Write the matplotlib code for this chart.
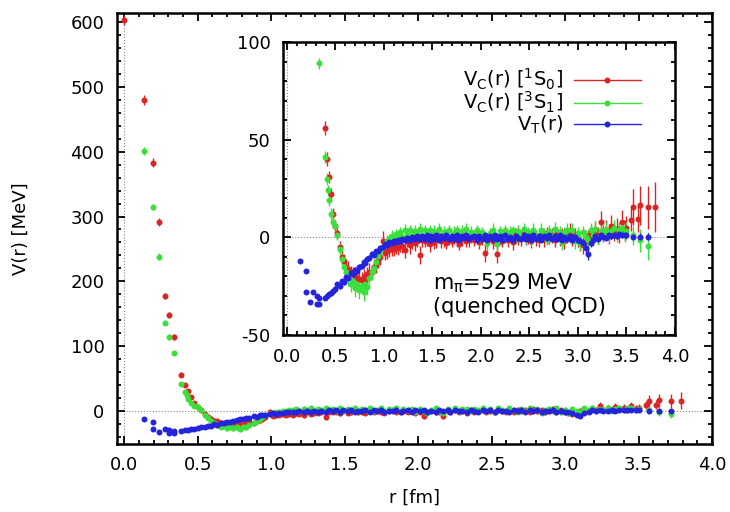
import matplotlib
matplotlib.use('Agg')
import matplotlib.pyplot as plt
from matplotlib.lines import Line2D
from matplotlib.ticker import MultipleLocator, FormatStrFormatter

plt.rcParams['font.family'] = ['DejaVu Sans']
plt.rcParams['mathtext.default'] = 'regular'

# ---------------- data ----------------
labels = [r'$V_C(r)\ [^1S_0]$', r'$V_C(r)\ [^3S_1]$', r'$V_T(r)$']
colors = ['#dd2424', '#3ae03a', '#2424dd']

# shared r grid of the long-range part [fm]
r_tail = [
    0.50, 0.52, 0.55, 0.57, 0.59, 0.61, 0.63, 0.66, 0.68, 0.70,
    0.72, 0.74, 0.77, 0.79, 0.81, 0.83, 0.85, 0.88, 0.90, 0.92,
    0.94, 0.96, 0.99, 1.01, 1.03, 1.05, 1.08, 1.10, 1.12, 1.15,
    1.17, 1.19, 1.22, 1.24, 1.27, 1.29, 1.32, 1.34, 1.37, 1.39,
    1.42, 1.44, 1.47, 1.49, 1.52, 1.54, 1.57, 1.59, 1.62, 1.64,
    1.67, 1.70, 1.72, 1.75, 1.77, 1.80, 1.83, 1.85, 1.88, 1.90,
    1.93, 1.96, 1.98, 2.01, 2.04, 2.06, 2.09, 2.12, 2.14, 2.17,
    2.20, 2.22, 2.25, 2.28, 2.30, 2.33, 2.36, 2.38, 2.41, 2.44,
    2.46, 2.49, 2.52, 2.54, 2.57, 2.60, 2.62, 2.65, 2.68, 2.70,
    2.73, 2.76, 2.78, 2.81, 2.84, 2.86, 2.89, 2.92, 2.94, 2.97,
    3.00, 3.02, 3.05, 3.08, 3.10, 3.13, 3.16, 3.18, 3.21, 3.24,
    3.26, 3.29, 3.32, 3.34, 3.37, 3.40, 3.42, 3.45, 3.48, 3.50,
]

# ---- V_C 1S0 (red) ----
r_1s0_core = [0.0, 0.137, 0.194, 0.237, 0.274, 0.306, 0.336, 0.388, 0.411, 0.433, 0.454, 0.475]
v_1s0_core = [603, 480, 383, 292, 177, 148, 114, 56, 40, 31, 22, 12]
e_1s0_core = [8, 8, 7, 6, 5, 5, 4, 3.5, 3.5, 3, 3, 3]
v_1s0_tail = [
    6.0, 2.0, -5.0, -10.0, -12.0, -15.0, -16.0, -18.0, -19.0, -20.0,
    -21.0, -21.5, -22.0, -20.5, -22.0, -19.0, -17.5, -18.0, -15.0, -14.0,
    -12.0, -10.0, -2.0, -8.0, -7.0, -6.5, -5.0, -6.0, -4.5, -5.5,
    -3.5, -4.5, -6.5, -2.0, -4.0, -2.5, -3.0, -2.0, -9.0, -1.5,
    -2.0, -1.0, -3.5, -0.5, -2.5, -1.5, 0.5, -2.0, -1.0, -3.0,
    -0.5, -2.0, 0.5, -1.5, -3.5, -0.5, 1.0, -2.0, -1.0, 0.5,
    -1.5, 0.5, -2.5, -1.0, -8.0, -1.5, 0.5, -2.0, -1.0, -8.5,
    -0.5, -2.0, 1.0, -1.5, 0.0, -2.5, 1.5, -1.0, -0.5, 2.0,
    -1.0, 0.5, -2.0, 1.5, -0.5, -1.5, 1.0, -1.0, 2.0, -0.5,
    1.0, -1.5, 2.5, -0.5, 1.5, -2.0, 0.5, 3.0, -1.0, 1.0,
    -1.5, -3.0, -4.0, -2.0, 0.5, 2.0, -0.5, 3.5, 1.0, 8.0,
    2.0, 4.0, 1.0, 6.0, 3.0, 4.5, 2.0, 8.0, 3.5, 5.0,
]
e_1s0_tail = [
    3.0, 3.0, 3.0, 3.5, 3.5, 3.5, 4.0, 3.5, 4.0, 3.5,
    4.0, 3.5, 4.0, 4.5, 3.5, 4.0, 4.5, 3.5, 4.0, 4.5,
    3.5, 4.0, 5.0, 3.5, 4.0, 3.5, 4.5, 3.5, 4.0, 3.5,
    4.0, 3.5, 4.0, 3.0, 4.5, 3.5, 4.0, 3.0, 4.5, 3.5,
    3.0, 3.5, 4.0, 3.0, 3.5, 4.0, 3.0, 3.5, 4.0, 3.0,
    3.5, 3.0, 4.0, 3.5, 3.0, 4.0, 3.5, 3.0, 4.0, 3.5,
    3.0, 4.0, 3.5, 3.0, 4.5, 3.5, 3.0, 4.0, 3.5, 4.5,
    3.5, 3.0, 4.0, 3.5, 3.0, 4.0, 3.5, 3.0, 4.0, 3.5,
    3.0, 4.0, 3.5, 3.0, 4.0, 3.5, 3.0, 4.0, 3.5, 3.0,
    4.0, 3.5, 3.0, 4.0, 3.5, 4.0, 3.5, 4.5, 3.5, 4.0,
    3.5, 4.0, 4.5, 4.0, 3.5, 4.5, 4.0, 5.0, 4.5, 5.5,
    4.5, 5.0, 4.5, 5.5, 5.0, 5.5, 5.0, 6.0, 5.5, 6.0,
]
r_1s0_end = [3.55, 3.57, 3.62, 3.64, 3.72, 3.79]
v_1s0_end = [9.0, 15.5, 9.5, 16.5, 15.5, 15.5]
e_1s0_end = [6.0, 9.0, 7.0, 10.0, 11.0, 13.0]

# ---- V_C 3S1 (green) ----
r_3s1_core = [0.137, 0.194, 0.237, 0.274, 0.306, 0.336, 0.388, 0.411, 0.425, 0.433, 0.454, 0.475]
v_3s1_core = [401, 315, 238, 136, 114, 89, 41, 30, 24, 19, 12, 8]
e_3s1_core = [6, 5, 5, 4, 4, 3, 3, 3, 3, 3, 3, 3]
v_3s1_tail = [
    6.0, 1.0, -6.0, -11.0, -15.0, -18.0, -21.0, -24.0, -22.5, -26.0,
    -24.0, -27.0, -25.0, -28.0, -24.0, -25.5, -21.0, -18.0, -15.5, -12.5,
    -9.5, -7.0, -5.0, -3.5, -2.0, -1.0, 0.5, 0.0, 1.5, 1.0,
    2.5, 0.0, 3.5, 1.0, 4.0, 0.5, 3.0, 1.5, 4.5, 0.8,
    3.5, 0.5, 4.0, -0.5, 3.0, 1.5, 4.5, 0.0, 2.5, 1.2,
    3.8, 0.2, 2.2, 4.0, -0.2, 3.0, 1.0, 4.4, 0.5, 2.5,
    1.0, 3.6, -1.0, 2.5, 0.5, -3.0, 2.0, 4.0, 0.0, -3.5,
    3.0, 0.5, 4.0, 0.0, 2.5, 3.5, -0.5, 3.0, 1.0, 4.2,
    0.2, 2.8, -1.5, 3.8, 1.4, -0.2, 4.0, 1.6, -1.2, 3.0,
    0.5, 4.2, 0.0, 2.8, -2.5, 2.2, 3.6, -0.5, 4.0, -2.0,
    2.0, -3.0, 2.8, 0.0, -1.5, 3.8, 1.0, 4.5, -0.2, 3.2,
    1.6, 4.0, 0.5, 3.0, 4.6, 1.0, 3.8, 4.8, 1.4, 3.4,
]
e_3s1_tail = [
    2.5, 2.5, 3.0, 3.0, 3.5, 3.5, 4.0, 4.0, 4.0, 4.5,
    4.0, 4.5, 4.0, 4.5, 4.0, 4.0, 3.5, 4.0, 3.5, 3.5,
    3.0, 3.0, 3.0, 2.5, 3.0, 2.5, 3.0, 2.5, 3.0, 3.0,
    3.0, 2.5, 3.5, 3.0, 2.5, 3.0, 3.5, 2.5, 3.0, 2.5,
    3.0, 3.5, 2.5, 3.0, 3.5, 2.5, 3.0, 2.5, 3.5, 3.0,
    2.5, 3.0, 3.5, 2.5, 3.0, 3.5, 2.5, 3.0, 2.5, 3.5,
    3.0, 2.5, 3.5, 3.0, 2.5, 4.0, 3.0, 3.5, 2.5, 4.0,
    3.0, 3.5, 2.5, 3.0, 3.5, 2.5, 3.0, 3.5, 2.5, 3.0,
    3.5, 2.5, 3.0, 3.5, 2.5, 3.0, 3.5, 3.0, 2.5, 3.5,
    3.0, 3.5, 2.5, 3.0, 4.0, 3.0, 3.5, 2.5, 3.5, 4.0,
    3.5, 4.0, 3.0, 3.5, 4.0, 3.5, 3.0, 4.0, 3.5, 4.0,
    3.5, 4.0, 3.5, 4.0, 4.5, 3.5, 4.0, 4.5, 4.0, 4.5,
]
r_3s1_end = [3.57, 3.64, 3.72]
v_3s1_end = [1.0, -1.5, -4.5]
e_3s1_end = [5.0, 6.0, 7.0]

# ---- V_T (blue) ----
r_t_core = [0.137, 0.194, 0.194, 0.237, 0.274, 0.306, 0.306, 0.336, 0.336, 0.388, 0.411, 0.433, 0.454, 0.475]
v_t_core = [-12, -17, -28, -33, -28, -30, -34, -34, -31, -31, -30, -29, -28.5, -27.5]
e_t_core = [1.0, 1.0, 1.0, 1.0, 1.0, 1.0, 1.0, 1.0, 1.0, 1.0, 1.0, 1.0, 1.0, 1.0]
v_t_tail = [
    -26.5, -24.0, -25.0, -22.5, -23.0, -20.5, -21.0, -18.5, -19.0, -16.5,
    -17.0, -15.0, -14.5, -12.5, -13.0, -11.0, -10.5, -8.5, -9.0, -7.0,
    -7.0, -5.5, -5.0, -3.5, -4.0, -2.5, -3.0, -1.8, -2.2, -1.2,
    -1.8, -0.6, -1.5, -0.2, -1.3, 0.3, -1.0, 0.6, -0.9, 0.8,
    -0.8, 1.0, -1.2, 0.7, -0.6, 1.2, -1.3, 0.5, -0.5, 1.1,
    -1.1, 0.8, -0.7, 1.3, -1.5, 0.6, -0.4, 1.2, -1.0, 0.4,
    0.9, -1.3, 0.7, -0.8, 1.2, -1.6, 0.5, -1.0, 1.1, -0.6,
    0.8, -1.2, 1.1, -0.8, 0.4, -1.4, 0.9, -0.2, -1.0, 1.2,
    -0.8, 0.7, -1.3, 1.1, -0.6, 0.5, -1.4, 0.9, -0.3, 1.0,
    -1.0, 0.7, -0.8, 1.2, -1.4, 0.4, -0.6, 0.9, -1.6, 0.2,
    -1.2, -2.0, -3.0, -5.5, -8.5, -3.0, -1.2, 0.8, -0.7, 1.0,
    0.4, -0.5, 1.1, 0.6, 1.3, 0.7, 1.5, 1.0, 1.4, 1.1,
]
e_t_tail = [
    1.5, 1.2, 1.5, 1.3, 1.5, 1.2, 1.4, 1.3, 1.5, 1.2,
    1.4, 1.3, 1.5, 1.2, 1.4, 1.3, 1.2, 1.4, 1.3, 1.2,
    1.3, 1.2, 1.4, 1.2, 1.3, 1.1, 1.2, 1.3, 1.1, 1.2,
    1.1, 1.2, 1.0, 1.2, 1.1, 1.0, 1.2, 1.1, 1.0, 1.2,
    1.1, 1.0, 1.2, 1.1, 1.0, 1.2, 1.1, 1.0, 1.2, 1.1,
    1.0, 1.2, 1.1, 1.0, 1.2, 1.1, 1.0, 1.2, 1.1, 1.0,
    1.2, 1.1, 1.0, 1.2, 1.1, 1.3, 1.0, 1.2, 1.1, 1.0,
    1.2, 1.1, 1.0, 1.2, 1.1, 1.0, 1.2, 1.1, 1.0, 1.2,
    1.1, 1.0, 1.2, 1.1, 1.0, 1.2, 1.1, 1.0, 1.2, 1.1,
    1.0, 1.2, 1.1, 1.0, 1.2, 1.1, 1.0, 1.2, 1.3, 1.1,
    1.2, 1.5, 1.8, 2.5, 3.0, 1.8, 1.3, 1.1, 1.2, 1.1,
    1.2, 1.1, 1.3, 1.2, 1.1, 1.3, 1.2, 1.4, 1.3, 1.5,
]
r_t_end = [3.57, 3.64, 3.72]
v_t_end = [0.3, 0.2, 0.4]
e_t_end = [1.5, 1.8, 2.0]

series = [
    (r_1s0_core + r_tail + r_1s0_end, v_1s0_core + v_1s0_tail + v_1s0_end, e_1s0_core + e_1s0_tail + e_1s0_end),
    (r_3s1_core + r_tail + r_3s1_end, v_3s1_core + v_3s1_tail + v_3s1_end, e_3s1_core + e_3s1_tail + e_3s1_end),
    (r_t_core + r_tail + r_t_end, v_t_core + v_t_tail + v_t_end, e_t_core + e_t_tail + e_t_end),
]

# ---------------- figure ----------------
fig = plt.figure(figsize=(7.3, 5.12), dpi=100)
ax = fig.add_axes([117/730, 1-444/512, 595/730, 431/512])
ax_in = fig.add_axes([283/730, 1-335/512, 392/730, 293/512])

MS = 4.3

def draw(a):
    a.axhline(0, color='#888888', ls=':', lw=0.8, zorder=1)
    a.axvline(0, color='#888888', ls=':', lw=0.8, zorder=1)
    for (r, v, e), c in zip(series, colors):
        a.errorbar(r, v, yerr=e, fmt='o', ms=MS, color=c, ecolor=c,
                   elinewidth=1.0, capsize=0, mew=0, zorder=2)

def style(a, xmaj, xmin, ymaj, ymin, yfmt):
    a.xaxis.set_major_locator(MultipleLocator(xmaj))
    a.xaxis.set_minor_locator(MultipleLocator(xmin))
    a.yaxis.set_major_locator(MultipleLocator(ymaj))
    a.yaxis.set_minor_locator(MultipleLocator(ymin))
    a.xaxis.set_major_formatter(FormatStrFormatter('%.1f'))
    a.yaxis.set_major_formatter(FormatStrFormatter(yfmt))
    a.tick_params(which='both', direction='in', top=True, right=True,
                  labelsize=13, width=1.3)
    a.tick_params(which='major', length=5.5, pad=9)
    a.tick_params(which='minor', length=3)
    for s in a.spines.values():
        s.set_linewidth(1.8)

draw(ax)
ax.set_xlim(-0.05, 4.0)
ax.set_ylim(-51, 614)
style(ax, 0.5, 0.1, 100, 20, '%d')
ax.set_xlabel('r [fm]', fontsize=13)
ax.set_ylabel('V(r) [MeV]', fontsize=13)
ax.xaxis.set_label_coords(0.5, -0.103)
ax.yaxis.set_label_coords(-0.146, 0.5)

ax_in.set_facecolor('white')
draw(ax_in)
ax_in.set_xlim(-0.04, 4.0)
ax_in.set_ylim(-50, 100)
style(ax_in, 0.5, 0.1, 50, 10, '%d')

handles = [Line2D([0], [0], color=c, lw=1.0, marker='o', ms=MS, mew=0) for c in colors]
ax_in.legend(handles, labels, loc='upper right', bbox_to_anchor=(0.912, 0.915),
             frameon=False, markerfirst=False, numpoints=1, handlelength=3.4,
             handletextpad=0.6, labelspacing=-0.1, fontsize=14,
             borderaxespad=0, borderpad=0)

ax_in.text(0.383, 0.154, r'$m_\pi$=529 MeV', transform=ax_in.transAxes,
           fontsize=15, ha='left', va='baseline')
ax_in.text(0.383, 0.075, '(quenched QCD)', transform=ax_in.transAxes,
           fontsize=15, ha='left', va='baseline')

fig.savefig('out.png', dpi=100)
